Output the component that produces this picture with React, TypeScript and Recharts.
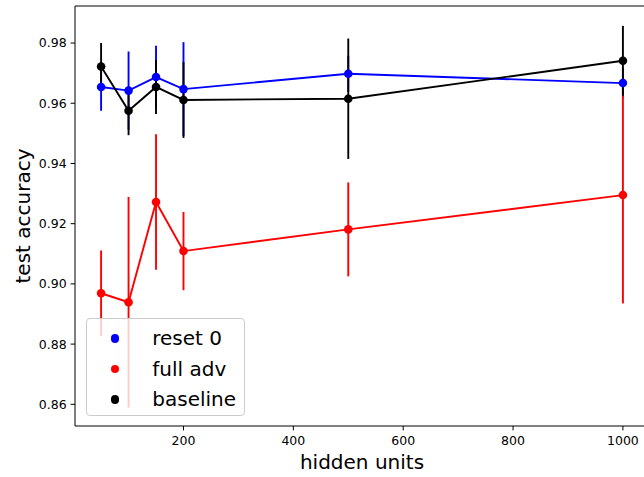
import { LineChart, Line, XAxis, YAxis, ErrorBar, Legend, ReferenceLine } from 'recharts';

// hidden units on the x axis
const hiddenUnits = [50, 100, 150, 200, 500, 1000];

// mean test accuracy and error (std) per series
const reset0Acc = [0.9654, 0.9642, 0.9687, 0.9647, 0.9698, 0.9667];
const reset0Err = [0.0079, 0.013, 0.0104, 0.0156, 0.006, 0.005];
const fullAdvAcc = [0.8969, 0.8939, 0.9272, 0.9109, 0.9181, 0.9295];
const fullAdvErr = [0.0142, 0.035, 0.0225, 0.013, 0.0156, 0.036];
const baselineAcc = [0.9722, 0.9575, 0.9654, 0.9611, 0.9615, 0.9741];
const baselineErr = [0.0078, 0.0081, 0.009, 0.0126, 0.02, 0.0116];

const xTicks = [200, 400, 600, 800, 1000];
const yTicks = [0.86, 0.88, 0.9, 0.92, 0.94, 0.96, 0.98];
const xDomain: [number, number] = [2.5, 1047.5];
const yDomain: [number, number] = [0.8528, 0.9923];

const series = [
  { key: 'reset0', err: 'reset0Err', name: 'reset 0', color: '#0000ff' },
  { key: 'fullAdv', err: 'fullAdvErr', name: 'full adv', color: '#ff0000' },
  { key: 'baseline', err: 'baselineErr', name: 'baseline', color: '#000000' },
];

const data = hiddenUnits.map((h, i) => ({
  h,
  reset0: reset0Acc[i],
  reset0Err: reset0Err[i],
  fullAdv: fullAdvAcc[i],
  fullAdvErr: fullAdvErr[i],
  baseline: baselineAcc[i],
  baselineErr: baselineErr[i],
}));

const FONT = '"DejaVu Sans", sans-serif';
const tickStyle = { fill: '#000', fontSize: 12.5, fontFamily: FONT };

function LegendBox() {
  return (
    <div
      style={{
        width: 159,
        height: 98,
        boxSizing: 'border-box',
        border: '1px solid #cccccc',
        borderRadius: 4,
        background: 'rgba(255,255,255,0.8)',
        fontFamily: FONT,
        fontSize: 20,
        color: '#000',
        paddingTop: 4,
      }}
    >
      {series.map((s) => (
        <div key={s.key} style={{ display: 'flex', alignItems: 'center', height: 30.7 }}>
          <span
            style={{
              display: 'inline-block',
              width: 8.6,
              height: 8.6,
              borderRadius: '50%',
              background: s.color,
              marginLeft: 23.7,
              marginRight: 33,
            }}
          />
          <span style={{ lineHeight: '20px', marginTop: -1 }}>{s.name}</span>
        </div>
      ))}
    </div>
  );
}

export default function App() {
  return (
    <div style={{ position: 'absolute', left: 0, top: 0, width: 644, height: 477, overflow: 'hidden', background: '#fff' }}>
      <LineChart width={660} height={477} data={data} margin={{ top: 6, right: 11, bottom: 0, left: 0 }}>
        <XAxis
          dataKey="h"
          type="number"
          domain={xDomain}
          ticks={xTicks}
          allowDataOverflow
          height={51}
          tick={tickStyle}
          tickSize={4.4}
          tickMargin={5.6}
          axisLine={{ stroke: '#000', strokeWidth: 1 }}
          tickLine={{ stroke: '#000', strokeWidth: 1 }}
          label={({ viewBox }: any) => (
            <text
              x={viewBox.x + viewBox.width / 2}
              y={viewBox.y + 43}
              textAnchor="middle"
              fontSize={20}
              fontFamily={FONT}
              fill="#000"
            >
              hidden units
            </text>
          )}
        />
        <YAxis
          type="number"
          domain={yDomain}
          ticks={yTicks}
          allowDataOverflow
          width={75}
          tick={tickStyle}
          tickSize={4.4}
          tickMargin={4}
          tickFormatter={(v: number) => v.toFixed(2)}
          axisLine={{ stroke: '#000', strokeWidth: 1 }}
          tickLine={{ stroke: '#000', strokeWidth: 1 }}
          label={({ viewBox }: any) => {
            const cx = 30;
            const cy = viewBox.y + viewBox.height / 2;
            return (
              <text
                x={cx}
                y={cy}
                transform={`rotate(-90, ${cx}, ${cy})`}
                textAnchor="middle"
                fontSize={20}
                fontFamily={FONT}
                fill="#000"
              >
                test accuracy
              </text>
            );
          }}
        />
        <ReferenceLine y={yDomain[1]} stroke="#000" strokeWidth={1} ifOverflow="visible" />

        {/* error bars first, so lines and markers sit on top of them */}
        {series.map((s) => (
          <Line
            key={s.key + '-err'}
            dataKey={s.key}
            stroke="none"
            dot={false}
            activeDot={false}
            legendType="none"
            isAnimationActive={false}
          >
            <ErrorBar dataKey={s.err} width={0} stroke={s.color} strokeWidth={1.9} direction="y" />
          </Line>
        ))}
        {series.map((s) => (
          <Line
            key={s.key}
            dataKey={s.key}
            name={s.name}
            stroke={s.color}
            strokeWidth={1.9}
            dot={{ r: 4.3, fill: s.color, stroke: s.color, strokeWidth: 0 }}
            activeDot={false}
            isAnimationActive={false}
          />
        ))}
        <Legend
          layout="horizontal"
          verticalAlign="middle"
          align="center"
          content={() => <LegendBox />}
          wrapperStyle={{ left: 86, top: 318, width: 159, height: 98 }}
        />
      </LineChart>
    </div>
  );
}
